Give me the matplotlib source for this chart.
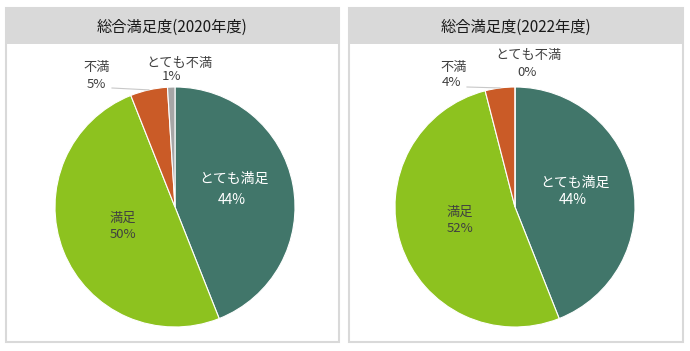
import numpy as np
import matplotlib.pyplot as plt
from matplotlib.patches import Rectangle

plt.rcParams['font.family'] = ['Noto Sans CJK JP', 'DejaVu Sans']

# data
categories = ["とても満足", "満足", "不満", "とても不満"]
titles = ["総合満足度(2020年度)", "総合満足度(2022年度)"]
values_2020 = [44, 50, 5, 1]
values_2022 = [44, 52, 4, 0]
colors = ["#41766A", "#8DC21F", "#CA5B27", "#A6A6A6"]
text_colors = ["white", "#404040", "#404040", "#404040"]

W, H = 690, 351
fig = plt.figure(figsize=(W / 100, H / 100), dpi=100)

# background axes in pixel coords
bg = fig.add_axes([0, 0, 1, 1])
bg.set_xlim(0, W)
bg.set_ylim(H, 0)
bg.axis("off")

panels = [(6, 339), (349, 683)]
top, band, bottom = 8, 44, 342
for (x0, x1), title in zip(panels, titles):
    bg.add_patch(Rectangle((x0, top), x1 - x0, band - top, facecolor="#D9D9D9", edgecolor="none"))
    bg.add_patch(Rectangle((x0, top), x1 - x0, bottom - top, facecolor="none",
                           edgecolor="#D9D9D9", lw=1.5))
    bg.text((x0 + x1) / 2, (top + band) / 2 + 1, title, ha="center", va="center",
            fontsize=11, color="#1A1A1A")

# pie centre / radius in pixels
centers = [(175, 207), (515, 207)]
R = 120

# label positions (name, percent) in pixels
label_pos = [
    [((234, 179), (232, 200)), ((123, 218), (123, 235)), ((97, 67), (96, 85)), ((179, 63), (172, 77))],
    [((575, 183), (573, 200)), ((460, 212), (460, 228)), ((454, 67), (452, 83)), ((528, 55), (527, 73))],
]
leader_start = [(112, 88), (467, 87)]

for (cx, cy), vals in zip(centers, [values_2020, values_2022]):
    ax = fig.add_axes([(cx - R) / W, (H - cy - R) / H, 2 * R / W, 2 * R / H])
    ax.pie(vals, colors=colors, startangle=90, counterclock=False,
           wedgeprops=dict(edgecolor="white", linewidth=0.8))
    ax.set_xlim(-1, 1)
    ax.set_ylim(-1, 1)
    ax.axis("off")

# overlay for labels
ov = fig.add_axes([0, 0, 1, 1], zorder=10)
ov.set_xlim(0, W)
ov.set_ylim(H, 0)
ov.axis("off")
ov.patch.set_alpha(0)

for (cx, cy), vals, lpos, lstart in zip(centers, [values_2020, values_2022], label_pos, leader_start):
    total = sum(vals)
    # leader line for 不満 slice
    cum = sum(vals[:2])
    theta = 2 * np.pi * (cum + vals[2] / 2) / total
    ex, ey = cx + R * np.sin(theta), cy - R * np.cos(theta)
    ov.plot([lstart[0], ex], [lstart[1], ey], color="#C8C8C8", lw=0.8)
    for i, (cat, v, (npos, ppos), tc) in enumerate(zip(categories, vals, lpos, text_colors)):
        fs = 10 if i == 0 else 9.5
        ov.text(npos[0], npos[1], cat, ha="center", va="center", fontsize=fs, color=tc)
        ov.text(ppos[0], ppos[1], f"{v}%", ha="center", va="center", fontsize=fs, color=tc)

fig.savefig("out.png", dpi=100)
